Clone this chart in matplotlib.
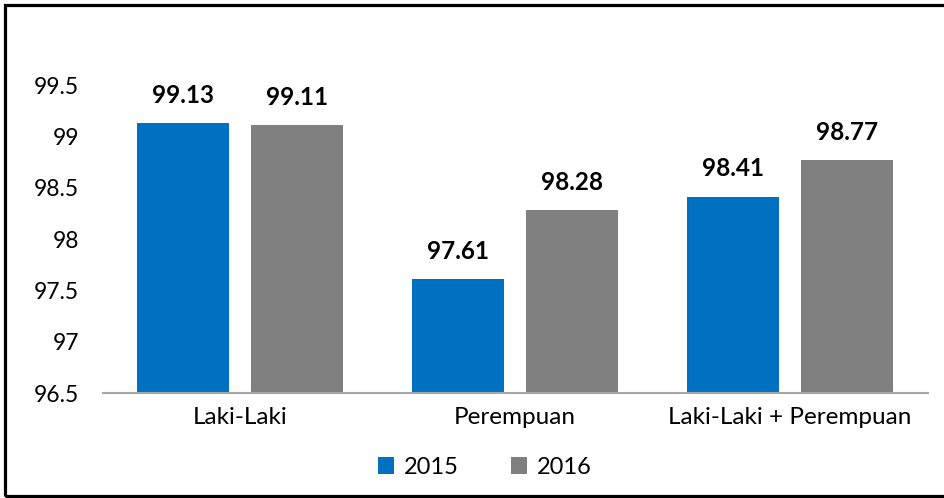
import matplotlib
matplotlib.use("Agg")
import matplotlib.pyplot as plt
import numpy as np
from matplotlib.patches import Rectangle

categories = ["Laki-Laki", "Perempuan", "Laki-Laki + Perempuan"]
series_names = ["2015", "2016"]
values_2015 = [99.13, 97.61, 98.41]
values_2016 = [99.11, 98.28, 98.77]
yticks = [96.5, 97, 97.5, 98, 98.5, 99, 99.5]
ytick_labels = ["96.5", "97", "97.5", "98", "98.5", "99", "99.5"]

colors = ["#0070C0", "#808080"]

plt.rcParams['font.family'] = ['Lato', 'DejaVu Sans']

fig = plt.figure(figsize=(9.45, 4.98), dpi=100)
ax = fig.add_axes([0.1085, 0.2108, 0.873, 0.6185])

x = np.arange(len(categories))
w = 0.335
off = 0.2075
b1 = ax.bar(x - off, np.array(values_2015) - 96.5, w, bottom=96.5, color=colors[0], label=series_names[0])
b2 = ax.bar(x + off, np.array(values_2016) - 96.5, w, bottom=96.5, color=colors[1], label=series_names[1])

for xs, vals in [(x - off, values_2015), (x + off, values_2016)]:
    for xi, v in zip(xs, vals):
        ax.text(xi, v + 0.16, f"{v:.2f}", ha="center", va="bottom", fontsize=17.5, fontweight="bold")

ax.set_ylim(96.5, 99.5)
ax.set_xlim(-0.5, 2.5)
ax.set_yticks(yticks)
ax.set_yticklabels(ytick_labels, fontsize=16.5)
ax.set_xticks(x)
ax.set_xticklabels(categories, fontsize=17.5)
ax.tick_params(axis="x", length=0, pad=10)
ax.tick_params(axis="y", length=0, pad=17)
for s in ["top", "right", "left"]:
    ax.spines[s].set_visible(False)
ax.spines["bottom"].set_color("#A6A6A6")
ax.spines["bottom"].set_linewidth(1.5)

leg = fig.legend(handles=[b1, b2], labels=series_names, loc="center", bbox_to_anchor=(0.513, 0.062),
                 ncol=2, frameon=False, fontsize=17, handlelength=0.7, handleheight=0.7,
                 columnspacing=2.2, handletextpad=0.4)

fig.patches.append(Rectangle((5.5/945, 2.5/498), 1.0, 490/498, transform=fig.transFigure,
                             fill=False, edgecolor="black", linewidth=2.3))

fig.savefig("out.png", dpi=100)
